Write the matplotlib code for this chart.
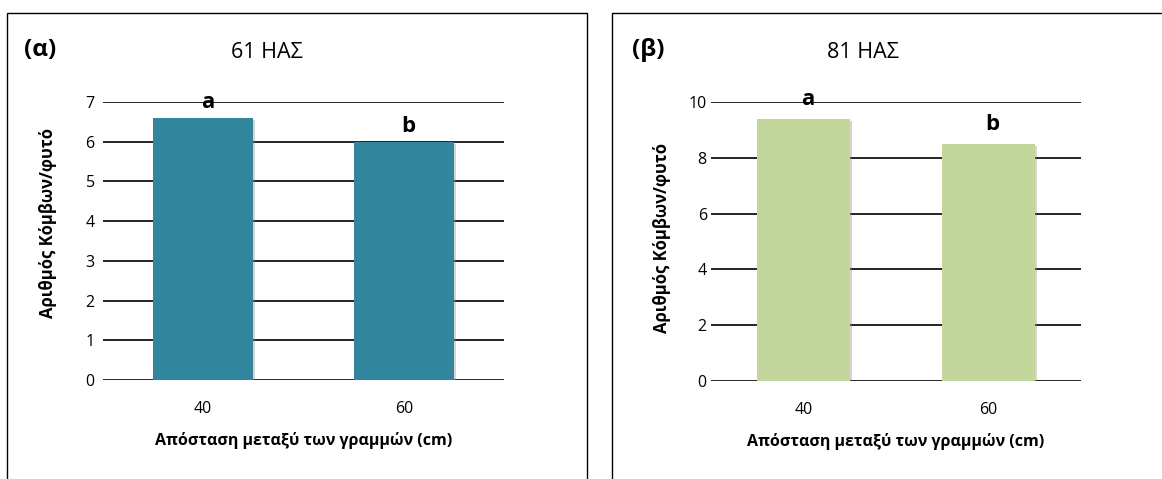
import matplotlib
matplotlib.use("Agg")
import matplotlib.pyplot as plt
from matplotlib.patches import Rectangle
import matplotlib.patheffects as pe

plt.rcParams['font.family'] = ['Open Sans', 'DejaVu Sans']

categories = ["40", "60"]
values_61 = [6.6, 6.0]
values_81 = [9.4, 8.5]
letters_61 = ["a", "b"]
letters_81 = ["a", "b"]
yticks_61 = [0, 1, 2, 3, 4, 5, 6, 7]
yticks_81 = [0, 2, 4, 6, 8, 10]

W, H = 1162, 479
fig = plt.figure(figsize=(W / 100, H / 100), dpi=100)

def fx(px):
    return px / W

def fy(py):
    return 1 - py / H

# panel borders
fig.patches.append(Rectangle((fx(7), fy(485)), fx(587) - fx(7), fy(13) - fy(485),
                             transform=fig.transFigure, fill=False, edgecolor='black', lw=1.0))
fig.patches.append(Rectangle((fx(612), fy(485)), fx(1170) - fx(612), fy(13) - fy(485),
                             transform=fig.transFigure, fill=False, edgecolor='black', lw=1.0))

def panel(rect, vals, letters, yticks, color, ypad, letter_off, tag, tag_x, title, title_x,
          ylab_x, ylab_y):
    ax = fig.add_axes(rect)
    x = range(len(categories))
    bars = ax.bar(x, vals, width=0.5, color=color, zorder=3)
    for b in bars:
        b.set_path_effects([pe.SimplePatchShadow(offset=(1.5, -1.5), shadow_rgbFace='#888888',
                                                 alpha=0.35), pe.Normal()])
    ax.set_xlim(-0.5, len(categories) - 0.5)
    ax.set_ylim(yticks[0], yticks[-1])
    ax.set_yticks(yticks)
    ax.set_xticks(list(x))
    ax.set_xticklabels(categories)
    ax.yaxis.grid(True, color='black', lw=1.2, zorder=1)
    ax.set_axisbelow(True)
    for s in ax.spines.values():
        s.set_visible(False)
    ax.tick_params(axis='both', length=0, labelsize=11.5)
    ax.tick_params(axis='y', pad=ypad)
    ax.tick_params(axis='x', pad=15)
    for xi, v, l in zip(x, vals, letters):
        ax.annotate(l, (xi, v), xytext=(3, letter_off), textcoords='offset points',
                    ha='center', va='baseline', fontsize=16, fontweight='bold')
    ax.set_xlabel("Απόσταση μεταξύ των γραμμών (cm)", fontsize=11.5, fontweight='bold',
                  labelpad=11)
    fig.text(fx(ylab_x), fy(ylab_y), "Αριθμός Κόμβων/φυτό", rotation=90, ha='center',
             va='center', fontsize=12, fontweight='bold')
    fig.text(fx(tag_x), fy(50), tag, ha='left', va='center', fontsize=17.5, fontweight='bold')
    fig.text(fx(title_x), fy(52), title, ha='center', va='center', fontsize=15.5)
    return ax

panel([fx(103), fy(380), fx(504) - fx(103), fy(102) - fy(380)], values_61, letters_61,
      yticks_61, '#31859C', 6, 7, "(α)", 24, "61 ΗΑΣ", 267, 48, 223)
panel([fx(711), fy(381), fx(1081) - fx(711), fy(102) - fy(381)], values_81, letters_81,
      yticks_81, '#C3D69B', 3, 10, "(β)", 632, "81 ΗΑΣ", 863, 662, 238)

fig.savefig("out.png", dpi=100)
